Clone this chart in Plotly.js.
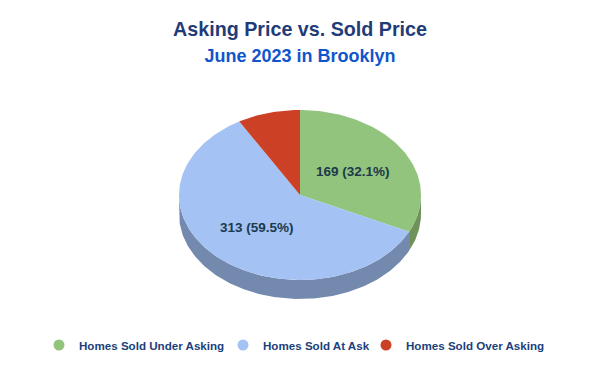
<!DOCTYPE html>
<html>
<head>
<meta charset="utf-8">
<script src="https://cdn.plot.ly/plotly-3.0.1.min.js"></script>
<style>html,body{margin:0;padding:0;background:#fff;}#chart{width:600px;height:371px;}</style>
</head>
<body>
<div id="chart"></div>
<script>
// ---- data ----
const categories = ["Homes Sold Under Asking", "Homes Sold At Ask", "Homes Sold Over Asking"];
const values = [169, 313, 44];
const topColors = ["#93c47d", "#a4c2f4", "#cc4125"];
const sideColors = ["#6e9259", "#7389ad", "#99311c"];
const titleText = "Asking Price vs. Sold Price";
const subtitleText = "June 2023 in Brooklyn";

// ---- geometry (layout) ----
const cx = 300, cy = 195, rx = 121, ry = 85, depth = 19, labelR = 0.52;
const total = values.reduce((a, b) => a + b, 0);

function pt(theta, dy) { // theta clockwise from top
  return [cx + rx * Math.sin(theta), cy - ry * Math.cos(theta) + (dy || 0)];
}
function arc(a0, a1, dy) {
  const n = Math.max(2, Math.ceil(Math.abs(a1 - a0) / (Math.PI / 180)));
  const out = [];
  for (let i = 0; i <= n; i++) out.push(pt(a0 + (a1 - a0) * i / n, dy));
  return out;
}

const traces = [];
const sideTraces = [];
const annotations = [];
let cum = 0;
values.forEach((v, i) => {
  const a0 = cum / total * 2 * Math.PI;
  cum += v;
  const a1 = cum / total * 2 * Math.PI;
  // side band (front half only: angles between 90deg and 270deg)
  const s0 = Math.max(a0, Math.PI / 2), s1 = Math.min(a1, 3 * Math.PI / 2);
  if (s1 > s0) {
    const top = arc(s0, s1, 0), bot = arc(s1, s0, depth);
    const poly = top.concat(bot);
    poly.push(top[0]);
    sideTraces.push({
      type: "scatter", mode: "lines", fill: "toself",
      x: poly.map(p => p[0]), y: poly.map(p => p[1]),
      fillcolor: sideColors[i], line: {width: 0, color: sideColors[i]},
      hoverinfo: "skip", showlegend: false
    });
  }
  // top wedge
  const w = [[cx, cy]].concat(arc(a0, a1, 0));
  w.push([cx, cy]);
  traces.push({
    type: "scatter", mode: "lines", fill: "toself",
    x: w.map(p => p[0]), y: w.map(p => p[1]),
    fillcolor: topColors[i], line: {width: 0, color: topColors[i]},
    name: categories[i], hoverinfo: "name", showlegend: false
  });
  // label
  const pct = v / total * 100;
  if (pct > 15) {
    const m = (a0 + a1) / 2;
    const lp = [cx + rx * labelR * Math.sin(m), cy - ry * labelR * Math.cos(m)];
    annotations.push({
      x: lp[0], y: lp[1], xref: "x", yref: "y", showarrow: false,
      text: "<b>" + v + " (" + pct.toFixed(1) + "%)</b>",
      font: {family: "Liberation Sans, Arial, sans-serif", size: 13.5, color: "#1b3a4b"}
    });
  }
});

// legend entries (one legend per item so spacing matches)
const legendNames = ["legend", "legend2", "legend3"];
const legendX = [39, 223, 366];
const legendTraces = categories.map((c, i) => ({
  type: "scatter", mode: "markers", x: [null], y: [null],
  name: c, marker: {color: topColors[i], size: 11, symbol: "circle"},
  legend: legendNames[i], showlegend: true, hoverinfo: "skip"
}));

const legendFont = {family: "Liberation Sans, Arial, sans-serif", size: 11.6, color: "#1c3f7a", weight: "bold"};
const layout = {
  width: 600, height: 371,
  margin: {l: 0, r: 0, t: 0, b: 0},
  paper_bgcolor: "#ffffff", plot_bgcolor: "#ffffff",
  title: {
    text: "<b>" + titleText + "</b><br><span style='font-size:18px;color:#1155cc'><b>" + subtitleText + "</b></span>",
    x: 0.5, xanchor: "center", y: 0.902, yanchor: "top", yref: "container",
    font: {family: "Liberation Sans, Arial, sans-serif", size: 19.7, color: "#1f3c78"}
  },
  xaxis: {range: [0, 600], visible: false, fixedrange: true},
  yaxis: {range: [371, 0], visible: false, fixedrange: true},
  showlegend: true,
  annotations: annotations
};
legendNames.forEach((ln, i) => {
  layout[ln] = {
    x: legendX[i] / 600, xanchor: "left", y: 1 - 345 / 371, yanchor: "middle",
    orientation: "h", font: legendFont, bgcolor: "rgba(0,0,0,0)", borderwidth: 0
  };
});

Plotly.newPlot("chart", sideTraces.concat(traces).concat(legendTraces), layout, {displayModeBar: false, staticPlot: true});
</script>
</body>
</html>
